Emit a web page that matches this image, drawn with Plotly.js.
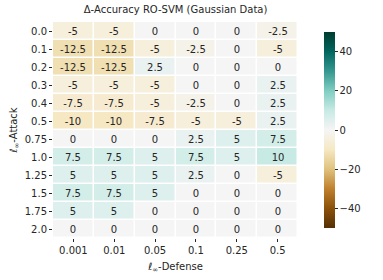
<!DOCTYPE html>
<html><head><meta charset="utf-8">
<script src="https://cdn.plot.ly/plotly-3.0.1.min.js"></script>
<style>body{margin:0}#c{width:383px;height:280px}</style>
</head><body><div id="c"></div>
<script>
const defense = ["0.001","0.01","0.05","0.1","0.25","0.5"];
const attack = ["0.0","0.1","0.2","0.3","0.4","0.5","0.75","1.0","1.25","1.5","1.75","2.0"];
const z_0_0  = [-5, -5, 0, 0, 0, -2.5];
const z_0_1  = [-12.5, -12.5, -5, -2.5, 0, -5];
const z_0_2  = [-12.5, -12.5, 2.5, 0, 0, 0];
const z_0_3  = [-5, -5, -5, 0, 0, 2.5];
const z_0_4  = [-7.5, -7.5, -5, -2.5, 0, 2.5];
const z_0_5  = [-10, -10, -7.5, -5, -5, 2.5];
const z_0_75 = [0, 0, 0, 2.5, 5, 7.5];
const z_1_0  = [7.5, 7.5, 5, 7.5, 5, 10];
const z_1_25 = [5, 5, 5, 2.5, 0, -5];
const z_1_5  = [7.5, 7.5, 5, 0, 0, 0];
const z_1_75 = [5, 5, 0, 0, 0, 0];
const z_2_0  = [0, 0, 0, 0, 0, 0];
const z = [z_0_0,z_0_1,z_0_2,z_0_3,z_0_4,z_0_5,z_0_75,z_1_0,z_1_25,z_1_5,z_1_75,z_2_0];
const text = z.map(r => r.map(v => String(v)));
const brbg = ["#543005","#8c510a","#bf812d","#dfc27d","#f6e8c3","#f5f5f5","#c7eae5","#80cdc1","#35978f","#01665e","#003c30"];
const colorscale = brbg.map((c,i)=>[i/(brbg.length-1), c]);
const font = {family:"DejaVu Sans", size:10, color:"#262626"};
Plotly.newPlot("c", [{
  type:"heatmap", x:defense, y:attack, z:z, text:text,
  texttemplate:"%{text}", textfont:{family:"DejaVu Sans", size:10, color:"#262626"},
  colorscale:colorscale, zmin:-50, zmax:50, xgap:1.5, ygap:1.5,
  colorbar:{x:1.064, xanchor:"left", xref:"paper", thickness:11, len:1.0, lenmode:"fraction",
    y:0.5, yanchor:"middle", outlinewidth:0, tickvals:[-40,-20,0,20,40], ticktext:["\u221240","\u221220","0","20","40"],
    ticks:"outside", ticklen:3, tickcolor:"#262626", tickfont:font}
}], {
  width:383, height:280, margin:{l:53, r:63, t:22, b:42},
  paper_bgcolor:"white", plot_bgcolor:"white", font:font,
  title:{text:"\u0394-Accuracy RO-SVM (Gaussian Data)", font:{family:"DejaVu Sans", size:10, color:"#262626"}, x:0.5, xref:"paper", y:0.965, yanchor:"middle"},
  xaxis:{type:"category", ticks:"outside", ticklen:3, tickcolor:"#262626", showgrid:false, zeroline:false, showline:false,
    title:{text:"\u2113<sub>\u221e</sub>-Defense", font:font, standoff:7}},
  yaxis:{type:"category", autorange:"reversed", ticks:"outside", ticklen:3, tickcolor:"#262626", showgrid:false, zeroline:false, showline:false,
    title:{text:"\u2113<sub>\u221e</sub>-Attack", font:font, standoff:5}}
}, {displayModeBar:false, staticPlot:true});
</script></body></html>
